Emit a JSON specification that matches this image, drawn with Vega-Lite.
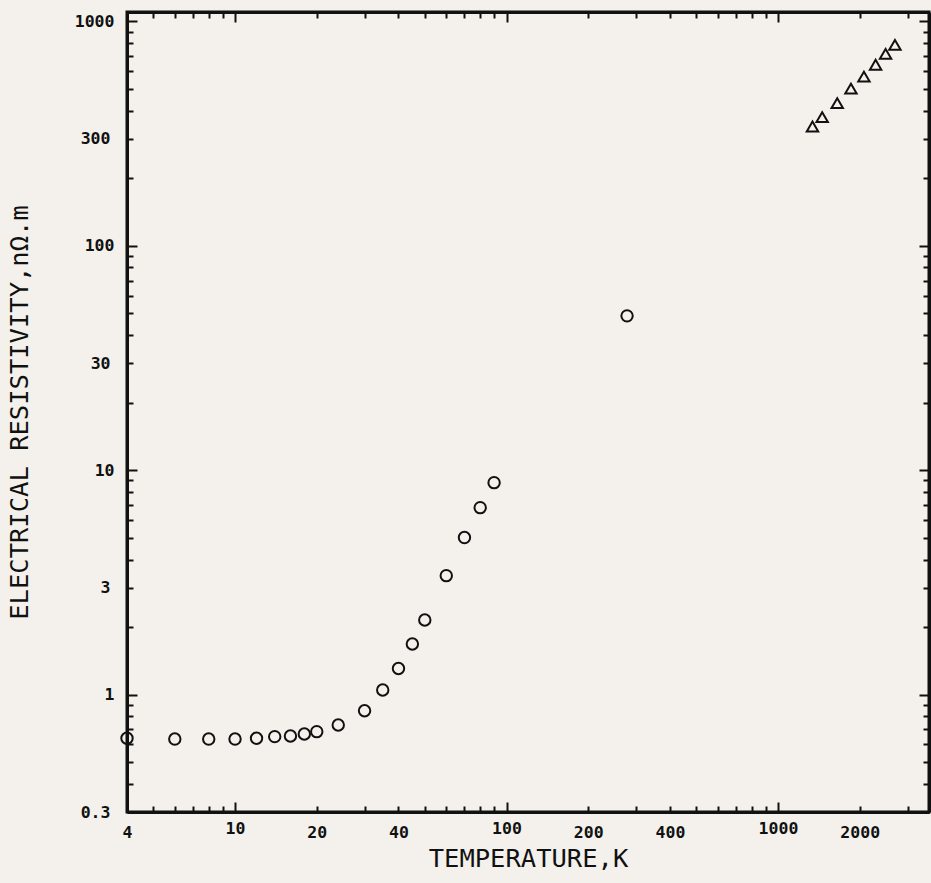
{
  "$schema": "https://vega.github.io/schema/vega-lite/v6.json",
  "width": 802,
  "height": 800,
  "autosize": {"type": "none"},
  "padding": {"left": 127, "top": 12, "right": 2, "bottom": 71},
  "background": "#f4f1ec",
  "config": {
    "view": {"stroke": "#111", "strokeWidth": 3, "fill": "#f4f1ec"},
    "axis": {
      "domainColor": "#111", "domainWidth": 3,
      "tickColor": "#111", "tickWidth": 2,
      "labelFont": "DejaVu Sans Mono", "labelFontSize": 16.5, "labelFontWeight": "bold", "labelColor": "#111",
      "titleFont": "DejaVu Sans Mono", "titleFontSize": 25.5, "titleFontWeight": "normal", "titleColor": "#111",
      "grid": false
    }
  },
  "data": {
    "values": [
      {"T": 4, "rho": 0.639, "series": "circle"},
      {"T": 6, "rho": 0.634, "series": "circle"},
      {"T": 8, "rho": 0.634, "series": "circle"},
      {"T": 10, "rho": 0.634, "series": "circle"},
      {"T": 12, "rho": 0.639, "series": "circle"},
      {"T": 14, "rho": 0.65, "series": "circle"},
      {"T": 16, "rho": 0.654, "series": "circle"},
      {"T": 18, "rho": 0.668, "series": "circle"},
      {"T": 20, "rho": 0.684, "series": "circle"},
      {"T": 24, "rho": 0.732, "series": "circle"},
      {"T": 30, "rho": 0.848, "series": "circle"},
      {"T": 35, "rho": 1.049, "series": "circle"},
      {"T": 40, "rho": 1.308, "series": "circle"},
      {"T": 45, "rho": 1.682, "series": "circle"},
      {"T": 50, "rho": 2.15, "series": "circle"},
      {"T": 60, "rho": 3.39, "series": "circle"},
      {"T": 70, "rho": 5.01, "series": "circle"},
      {"T": 80, "rho": 6.81, "series": "circle"},
      {"T": 90, "rho": 8.8, "series": "circle"},
      {"T": 278, "rho": 48.7, "series": "circle"},
      {"T": 1340, "rho": 340, "series": "triangle"},
      {"T": 1455, "rho": 374, "series": "triangle"},
      {"T": 1653, "rho": 432, "series": "triangle"},
      {"T": 1857, "rho": 501, "series": "triangle"},
      {"T": 2073, "rho": 567, "series": "triangle"},
      {"T": 2289, "rho": 640, "series": "triangle"},
      {"T": 2491, "rho": 716, "series": "triangle"},
      {"T": 2697, "rho": 785, "series": "triangle"}
    ]
  },
  "encoding": {
    "x": {"field": "T", "type": "quantitative", "scale": {"type": "log", "domain": [4, 3600], "nice": false}},
    "y": {"field": "rho", "type": "quantitative", "scale": {"type": "log", "domain": [0.3, 1100], "nice": false}},
    "shape": {"field": "series", "type": "nominal", "scale": {"domain": ["circle", "triangle"], "range": ["circle", "triangle-up"]}, "legend": null}
  },
  "layer": [
    {
      "mark": {"type": "point", "filled": false, "stroke": "#111", "strokeWidth": 2, "size": 130, "opacity": 1},
      "encoding": {
        "x": {"field": "T", "type": "quantitative", "scale": {"type": "log", "domain": [4, 3600], "nice": false},
          "axis": {"orient": "bottom", "title": "TEMPERATURE,K",
            "values": [4,5,6,7,8,9,10,20,30,40,50,60,70,80,90,100,200,300,400,500,600,700,800,900,1000,2000,3000],
            "format": "~g",
            "labelExpr": "indexof([4,10,20,40,100,200,400,1000,2000], datum.value) >= 0 ? datum.label : ''",
            "tickSize": {"condition": {"test": "indexof([10,100,1000], datum.value) >= 0", "value": -10}, "value": -6},
            "labelPadding": 18, "labelFlush": false, "labelOverlap": false, "titlePadding": 6}},
        "y": {"field": "rho", "type": "quantitative", "scale": {"type": "log", "domain": [0.3, 1100], "nice": false},
          "axis": {"orient": "left", "title": "ELECTRICAL RESISTIVITY,nΩ.m",
            "values": [0.3,0.4,0.5,0.6,0.7,0.8,0.9,1,2,3,4,5,6,7,8,9,10,20,30,40,50,60,70,80,90,100,200,300,400,500,600,700,800,900,1000],
            "format": "~g",
            "labelExpr": "indexof([0.3,1,3,10,30,100,300,1000], datum.value) >= 0 ? datum.label : ''",
            "tickSize": {"condition": {"test": "indexof([1,10,100,1000], datum.value) >= 0", "value": -10}, "value": -6},
            "labelPadding": 23, "labelFlush": false, "labelOverlap": false, "titleX": -108, "titleBaseline": "middle"}}
      }
    },
    {
      "mark": {"type": "point", "opacity": 0},
      "encoding": {
        "x": {"field": "T", "type": "quantitative", "scale": {"type": "log", "domain": [4, 3600], "nice": false},
          "axis": {"orient": "top", "title": null, "labels": false,
            "values": [4,5,6,7,8,9,10,20,30,40,50,60,70,80,90,100,200,300,400,500,600,700,800,900,1000,2000,3000],
            "tickSize": {"condition": {"test": "indexof([10,100,1000], datum.value) >= 0", "value": -10}, "value": -6}}},
        "y": {"field": "rho", "type": "quantitative", "scale": {"type": "log", "domain": [0.3, 1100], "nice": false},
          "axis": {"orient": "right", "title": null, "labels": false,
            "values": [0.3,0.4,0.5,0.6,0.7,0.8,0.9,1,2,3,4,5,6,7,8,9,10,20,30,40,50,60,70,80,90,100,200,300,400,500,600,700,800,900,1000],
            "tickSize": {"condition": {"test": "indexof([1,10,100,1000], datum.value) >= 0", "value": -10}, "value": -6}}}
      }
    }
  ],
  "resolve": {"axis": {"x": "independent", "y": "independent"}}
}
